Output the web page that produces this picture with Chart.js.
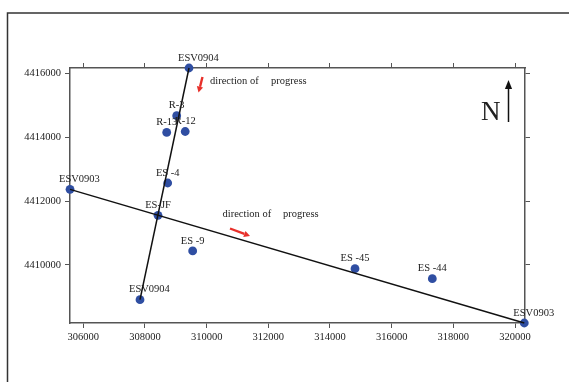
<!DOCTYPE html>
<html><head><meta charset="utf-8">
<script src="https://cdn.jsdelivr.net/npm/chart.js@4/dist/chart.umd.min.js"></script>
<style>html,body{margin:0;padding:0;background:#fff}canvas{display:block}</style>
</head><body>
<canvas id="c" width="569" height="382"></canvas>
<script>
// ---- data ----
const wellNames = ['R-3', 'R-13', 'R-12', 'ES -4', 'ES-JF', 'ES -9', 'ES -45', 'ES -44'];
const wellX = [309029, 308705, 309305, 308737, 308423, 309547, 314811, 317318];
const wellY = [4414675, 4414150, 4414180, 4412567, 4411553, 4410438, 4409883, 4409570];

const profileNSNames = ['ESV0904', 'ESV0904'];
const profileNSX = [309428, 307839];
const profileNSY = [4416170, 4408912];

const profileEWNames = ['ESV0903', 'ESV0903'];
const profileEWX = [305570, 320301];
const profileEWY = [4412367, 4408180];

const xTicks = [306000, 308000, 310000, 312000, 314000, 316000, 318000, 320000];
const yTicks = [4410000, 4412000, 4414000, 4416000];
const xRange = [305569, 320324];
const yRange = [4408180, 4416170];

// ---- build library structures ----
const toPts = (xs, ys, names, end) => xs.map((x, i) => ({x: x, y: ys[i], name: names[i], end: end}));
const stationPts = [].concat(
  toPts(profileNSX, profileNSY, profileNSNames, true),
  toPts(profileEWX, profileEWY, profileEWNames, true),
  toPts(wellX, wellY, wellNames, false)
);

const SERIF = '"Liberation Serif", "Times New Roman", serif';
const AXIS_COLOR = '#555';
const TEXT_COLOR = '#222';

function setTicks(vals) {
  return function(scale) { scale.ticks = vals.map(v => ({value: v})); };
}

const decorPlugin = {
  id: 'decor',
  beforeDraw(chart) {
    const ctx = chart.ctx;
    ctx.save();
    ctx.fillStyle = '#fff';
    ctx.fillRect(0, 0, chart.width, chart.height);
    ctx.restore();
  },
  afterDraw(chart) {
    const ctx = chart.ctx;
    ctx.save();
    // outer frame (extends beyond right/bottom)
    ctx.strokeStyle = '#333';
    ctx.lineWidth = 1.5;
    ctx.strokeRect(7.5, 13, 620, 420);

    // station labels
    const meta = chart.getDatasetMeta(0);
    ctx.font = '10.5px ' + SERIF;
    ctx.fillStyle = TEXT_COLOR;
    ctx.textBaseline = 'middle';
    meta.data.forEach((el, i) => {
      const p = stationPts[i];
      if (p.end) {
        ctx.textAlign = 'left';
        ctx.fillText(p.name, el.x - 11, el.y - 10);
      } else {
        ctx.textAlign = 'center';
        ctx.fillText(p.name, el.x, el.y - 10);
      }
    });

    // "direction of progress" notes
    ctx.textAlign = 'left';
    ctx.fillText('direction of', 210, 81);
    ctx.fillText('progress', 271, 81);
    ctx.fillText('direction of', 222.5, 214);
    ctx.fillText('progress', 283, 214);

    // arrows
    function arrow(x1, y1, x2, y2, color, lw, hl, hw) {
      const a = Math.atan2(y2 - y1, x2 - x1);
      const bx = x2 - hl * Math.cos(a), by = y2 - hl * Math.sin(a);
      ctx.strokeStyle = color; ctx.fillStyle = color; ctx.lineWidth = lw;
      ctx.beginPath(); ctx.moveTo(x1, y1); ctx.lineTo(bx, by); ctx.stroke();
      ctx.beginPath();
      ctx.moveTo(x2, y2);
      ctx.lineTo(bx + hw * Math.sin(a), by - hw * Math.cos(a));
      ctx.lineTo(bx - hw * Math.sin(a), by + hw * Math.cos(a));
      ctx.closePath(); ctx.fill();
    }
    arrow(202.5, 77, 198.5, 92.5, '#e8302a', 2.4, 6, 3.2);
    arrow(230, 228.5, 250, 236, '#e8302a', 2.4, 6, 3.2);

    // north arrow
    arrow(508.5, 122, 508.5, 80, '#111', 1.5, 9, 3.6);
    ctx.fillStyle = '#222';
    ctx.font = '27px ' + SERIF;
    ctx.textAlign = 'left';
    ctx.textBaseline = 'alphabetic';
    ctx.fillText('N', 481, 120);
    ctx.restore();
  }
};

const tickFont = {family: SERIF, size: 10.5};

new Chart(document.getElementById('c'), {
  type: 'scatter',
  data: {
    datasets: [
      {
        label: 'stations',
        data: stationPts,
        backgroundColor: '#2f4ea2',
        borderColor: '#2f4ea2',
        pointRadius: 4.4,
        pointBorderWidth: 0,
        showLine: false,
        clip: false,
        order: 2
      },
      {
        label: 'ESV0904',
        data: toPts(profileNSX, profileNSY, profileNSNames, true),
        showLine: true,
        borderColor: '#111',
        borderWidth: 1.5,
        pointRadius: 0,
        clip: false,
        order: 1
      },
      {
        label: 'ESV0903',
        data: toPts(profileEWX, profileEWY, profileEWNames, true),
        showLine: true,
        borderColor: '#111',
        borderWidth: 1.5,
        pointRadius: 0,
        clip: false,
        order: 1
      }
    ]
  },
  options: {
    responsive: false,
    animation: false,
    devicePixelRatio: 1,
    layout: {padding: 0},
    plugins: {legend: {display: false}, tooltip: {enabled: false}},
    scales: {
      x: {
        type: 'linear', position: 'bottom', min: xRange[0], max: xRange[1],
        afterBuildTicks: setTicks(xTicks),
        afterFit(s) { s.height = 59; },
        grid: {drawOnChartArea: false, drawTicks: true, tickLength: 5, color: AXIS_COLOR, lineWidth: 1},
        border: {display: true, color: AXIS_COLOR, width: 1.5},
        ticks: {font: tickFont, color: TEXT_COLOR, padding: 3, maxRotation: 0, autoSkip: false,
                callback: v => String(v)}
      },
      x2: {
        type: 'linear', position: 'top', min: xRange[0], max: xRange[1],
        afterBuildTicks: setTicks(xTicks),
        afterFit(s) { s.height = 68; },
        grid: {drawOnChartArea: false, drawTicks: true, tickLength: 5, color: AXIS_COLOR, lineWidth: 1},
        border: {display: true, color: AXIS_COLOR, width: 1.5},
        ticks: {display: false}
      },
      y: {
        type: 'linear', position: 'left', min: yRange[0], max: yRange[1],
        afterBuildTicks: setTicks(yTicks),
        afterFit(s) { s.width = 70; },
        grid: {drawOnChartArea: false, drawTicks: true, tickLength: 5, color: AXIS_COLOR, lineWidth: 1},
        border: {display: true, color: AXIS_COLOR, width: 1.5},
        ticks: {font: tickFont, color: TEXT_COLOR, padding: 4, autoSkip: false,
                callback: v => String(v)}
      },
      y2: {
        type: 'linear', position: 'right', min: yRange[0], max: yRange[1],
        afterBuildTicks: setTicks(yTicks),
        afterFit(s) { s.width = 44; },
        grid: {drawOnChartArea: false, drawTicks: true, tickLength: 5, color: AXIS_COLOR, lineWidth: 1},
        border: {display: true, color: AXIS_COLOR, width: 1.5},
        ticks: {display: false}
      }
    }
  },
  plugins: [decorPlugin]
});
</script>
</body></html>
